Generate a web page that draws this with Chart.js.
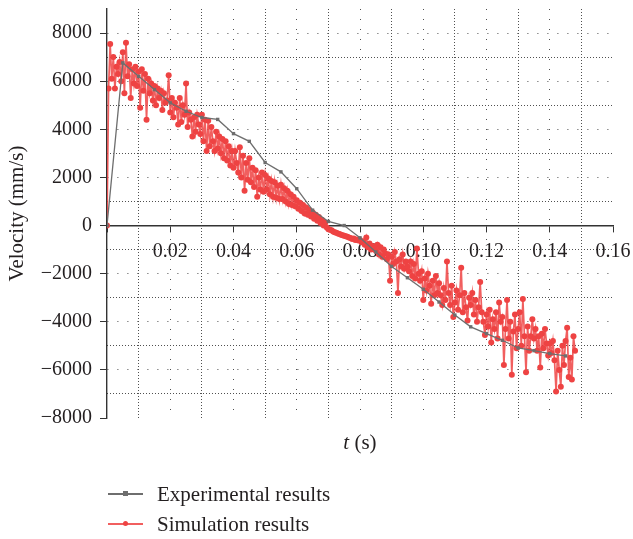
<!DOCTYPE html>
<html>
<head>
<meta charset="utf-8">
<script src="https://cdn.jsdelivr.net/npm/chart.js@4.4.1/dist/chart.umd.min.js"></script>
<style>
  html, body { margin: 0; padding: 0; background: #fff; }
  #wrap { position: relative; width: 633px; height: 539px; font-family: "Liberation Serif", serif; color: #231f20; }
  #xtitle { position: absolute; left: 310px; width: 100px; top: 429px; text-align: center; font-size: 21px; line-height: 26px; }
  .item { position: absolute; left: 157px; font-size: 21px; line-height: 26px; white-space: nowrap; }
  .key { position: absolute; left: -49px; top: 12px; width: 35px; height: 1.5px; }
  .key i { position: absolute; left: 15px; top: -2px; width: 5px; height: 5px; }
</style>
</head>
<body>
<div id="wrap">
  <canvas id="chart" width="633" height="539"></canvas>
  <div id="xtitle"><i>t</i> (s)</div>
  <div id="legend"></div>
</div>
<script>
// experimental measurements (every 5 ms)
const EXP_T = [0, 0.005, 0.01, 0.015, 0.02, 0.025, 0.03, 0.035, 0.04, 0.045,
  0.05, 0.055, 0.06, 0.065, 0.07, 0.075, 0.08, 0.085, 0.09, 0.095,
  0.1, 0.105, 0.11, 0.115, 0.12, 0.125, 0.13, 0.135, 0.14, 0.145];
const EXP_V = [0, 6760, 6200, 5650, 5100, 4750, 4490, 4410, 3820, 3500,
  2620, 2230, 1530, 640, 170, 0, -510, -1100, -1700, -2170,
  -2650, -3180, -3720, -4210, -4490, -4770, -5090, -5200, -5320, -5420];

// simulation output, sampled every 0.5 ms
const SIM_DT = 0.0005;
const SIM_V = [
  0, 5700, 7550, 6100, 7000, 5700, 6600, 6300, 6800, 6000,
  7200, 5500, 7600, 6200, 6700, 5300, 6500, 5900, 6600, 5800,
  6400, 4900, 6500, 5600, 6300, 4400, 6100, 5500, 5900, 5200,
  5800, 5000, 5700, 5300, 5600, 4800, 5500, 5100, 5200, 6250,
  4700, 5300, 4500, 5100, 4900, 4200, 5300, 4300, 5000, 4600,
  5900, 4100, 4700, 4400, 3700, 4500, 3900, 4600, 4200, 3800,
  4600, 3500, 4400, 3100, 4350, 3300, 4100, 3500, 3100, 3900,
  3200, 3700, 3000, 3600, 2800, 3500, 2700, 3300, 2500, 3100,
  2400, 3100, 2600, 2200, 3250, 2000, 2900, 1450, 2600, 1900,
  2800, 1800, 2400, 1600, 2300, 1200, 2000, 1500, 2200, 1400,
  2100, 1500, 1950, 1300, 1850, 1200, 1800, 1150, 1650, 1100,
  1700, 1100, 1550, 1000, 1450, 900, 1300, 850, 1200, 800,
  1050, 700, 950, 600, 850, 500, 750, 450, 650, 380,
  550, 280, 450, 200, 350, 100, 230, 0, 120, -80,
  -150, -180, -200, -250, -280, -300, -330, -350, -380, -400,
  -420, -450, -470, -500, -520, -560, -540, -600, -580, -620,
  -600, -700, -650, -800, -500, -900, -750, -1000, -850, -950,
  -1050, -800, -1200, -900, -1300, -1000, -1150, -1400, -1200, -2300,
  -1300, -1600, -1100, -1500, -2800, -1400, -1700, -1200, -1800, -1500,
  -1700, -1900, -1500, -2100, -1600, -2200, -950, -2000, -2300, -1900,
  -3100, -2200, -2700, -2000, -2500, -3250, -2300, -2900, -2100, -2800,
  -2400, -2900, -3300, -2600, -3100, -1500, -2800, -3300, -2500, -3800,
  -3200, -2700, -3500, -2900, -1750, -3600, -2800, -3400, -3950, -3000,
  -3300, -2800, -3700, -3100, -4000, -3400, -2350, -3600, -4000, -4550,
  -3700, -4200, -3500, -4860, -3900, -4300, -3600, -4700, -3200, -4000,
  -3800, -5800, -4300, -3100, -4700, -4000, -6200, -4400, -3700, -5100,
  -4300, -3600, -5000, -3050, -4600, -6100, -4200, -5200, -4600, -3900,
  -4700, -4300, -5200, -4600, -5900, -4500, -5100, -4300, -4900, -5400,
  -4900, -5300, -4800, -5600, -6900, -5200, -6000, -6700, -5000, -5800,
  -4800, -4250, -6300, -5500, -6400, -4600, -5200
];

// labelled ticks (sparse dotted grid) and odd-position grid lines (dense dots)
const X_MAJOR = [0, 0.02, 0.04, 0.06, 0.08, 0.1, 0.12, 0.14, 0.16];
const Y_MAJOR = [-8000, -6000, -4000, -2000, 0, 2000, 4000, 6000, 8000];
const X_MINOR = [0.01, 0.03, 0.05, 0.07, 0.09, 0.11, 0.13, 0.15];
const Y_MINOR = [-7000, -5000, -3000, -1000, 1000, 3000, 5000, 7000];

const LABELS = ['Experimental results', 'Simulation results'];
const COLORS = ['#6e6e6e', '#ee4343'];

const FONT = { family: '"Liberation Serif", serif', size: 20 };
const INK = '#231f20';
const GRID = '#505050';

function minus(v) {
  return v < 0 ? '\u2212' + Math.abs(v) : String(v);
}

function noEdgePadding(s) {
  s.paddingTop = 0;
  s.paddingBottom = 0;
  s.paddingLeft = 0;
  s.paddingRight = 0;
}

const ctx = document.getElementById('chart').getContext('2d');
new Chart(ctx, {
  type: 'line',
  data: {
    datasets: [
      {
        label: LABELS[0],
        data: EXP_T.map((t, i) => ({ x: t, y: EXP_V[i] })),
        borderColor: COLORS[0],
        backgroundColor: COLORS[0],
        borderWidth: 1.3,
        pointStyle: 'rect',
        pointRadius: 2.4,
        pointBorderWidth: 0,
        tension: 0
      },
      {
        label: LABELS[1],
        data: SIM_V.map((v, i) => ({ x: i * SIM_DT, y: v })),
        borderColor: 'rgba(238,67,67,0.85)',
        backgroundColor: COLORS[1],
        borderWidth: 1.7,
        pointRadius: 3,
        pointBorderWidth: 0,
        tension: 0
      }
    ]
  },
  options: {
    responsive: false,
    animation: false,
    layout: { padding: { top: 9, right: 20, bottom: 121, left: 0 } },
    plugins: { legend: { display: false }, tooltip: { enabled: false } },
    scales: {
      x: {
        type: 'linear',
        position: { y: 0 },
        min: 0,
        max: 0.16,
        afterBuildTicks: s => { s.ticks = X_MAJOR.map(v => ({ value: v })); },
        afterFit: noEdgePadding,
        ticks: {
          color: INK,
          font: FONT,
          padding: 8,
          maxRotation: 0,
          autoSkip: false,
          callback: v => (v === 0 ? '' : v.toFixed(2))
        },
        grid: {
          color: c => (c.tick && (c.tick.value === 0 || c.tick.value === 0.16) ? 'transparent' : GRID),
          lineWidth: 1,
          drawTicks: true,
          tickLength: 6,
          tickColor: '#333'
        },
        border: { color: '#333', width: 1.4, dash: [1, 9] }
      },
      x2: {
        type: 'linear',
        position: { y: 0 },
        min: 0,
        max: 0.16,
        afterBuildTicks: s => { s.ticks = X_MINOR.map(v => ({ value: v })); },
        afterFit: noEdgePadding,
        ticks: { display: false },
        grid: { color: GRID, lineWidth: 1, drawTicks: false },
        border: { display: false, dash: [1, 2] }
      },
      y: {
        type: 'linear',
        position: 'left',
        min: -8000,
        max: 9000,
        afterBuildTicks: s => { s.ticks = Y_MAJOR.map(v => ({ value: v })); },
        afterFit: s => { s.width = 107; noEdgePadding(s); },
        ticks: {
          color: INK,
          font: FONT,
          padding: 8,
          autoSkip: false,
          callback: v => minus(v)
        },
        grid: {
          color: c => (c.tick && (c.tick.value === 0 || c.tick.value === -8000) ? 'transparent' : GRID),
          lineWidth: 1,
          tickLength: 7,
          tickColor: '#333'
        },
        border: { color: '#333', width: 1.4, dash: [1, 9] },
        title: {
          display: true,
          text: 'Velocity (mm/s)',
          color: INK,
          font: { family: FONT.family, size: 21 },
          padding: { top: 5, bottom: 0 }
        }
      },
      y2: {
        type: 'linear',
        position: { x: 0 },
        min: -8000,
        max: 9000,
        afterBuildTicks: s => { s.ticks = Y_MINOR.map(v => ({ value: v })); },
        afterFit: noEdgePadding,
        ticks: { display: false },
        grid: { color: GRID, lineWidth: 1, drawTicks: false },
        border: { display: false, dash: [1, 2] }
      }
    }
  }
});

// legend below the plot, one entry per line
const legend = document.getElementById('legend');
LABELS.forEach((name, i) => {
  const item = document.createElement('div');
  item.className = 'item';
  item.style.top = (481 + i * 30) + 'px';
  const key = document.createElement('span');
  key.className = 'key';
  key.style.background = i === 0 ? COLORS[0] : 'rgba(238,67,67,0.85)';
  const dot = document.createElement('i');
  dot.style.background = COLORS[i];
  if (i === 1) dot.style.borderRadius = '50%';
  key.appendChild(dot);
  item.appendChild(key);
  item.appendChild(document.createTextNode(name));
  legend.appendChild(item);
});
</script>
</body>
</html>
